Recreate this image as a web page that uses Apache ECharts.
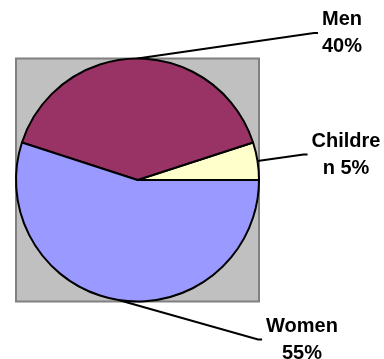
<!DOCTYPE html>
<html>
<head>
<meta charset="utf-8">
<script src="https://cdn.jsdelivr.net/npm/echarts@6/dist/echarts.min.js"></script>
<style>
  html, body { margin: 0; padding: 0; background: #ffffff; }
  #chart { width: 384px; height: 359px; }
</style>
</head>
<body>
<div id="chart"></div>
<script>
// Population shares
const categories = ['Children', 'Men', 'Women'];
const shares = [5, 40, 55];

// Slice fills, in category order
const sliceColors = ['#FFFFCC', '#993366', '#9999FF'];

// Layout constants
const PIE_CX = 137.5, PIE_CY = 180, PIE_R = 121.5;
const labelPositions = [[346, 154.5], [342, 33], [302, 339.5]];
const LABEL_FONT = 'bold 20px "Liberation Sans", Arial, sans-serif';
const WRAP_WIDTH = 76;

// Word-wrap a label to WRAP_WIDTH, splitting over-long words by character
const measureCtx = document.createElement('canvas').getContext('2d');
measureCtx.font = LABEL_FONT;
function textWidth(s) { return measureCtx.measureText(s).width; }
function wrapLabel(text) {
  const lines = [];
  let line = '';
  for (const word of text.split(' ')) {
    const candidate = line ? line + ' ' + word : word;
    if (textWidth(candidate) <= WRAP_WIDTH) { line = candidate; continue; }
    if (line) lines.push(line);
    let rest = word;
    while (textWidth(rest) > WRAP_WIDTH) {
      let k = rest.length;
      while (k > 1 && textWidth(rest.slice(0, k)) > WRAP_WIDTH) k--;
      lines.push(rest.slice(0, k));
      rest = rest.slice(k);
    }
    line = rest;
  }
  if (line) lines.push(line);
  return lines.join('\n');
}

const chart = echarts.init(document.getElementById('chart'), null, { renderer: 'canvas' });

chart.setOption({
  animation: false,
  backgroundColor: '#ffffff',
  graphic: [{
    type: 'rect',
    z: 0,
    shape: { x: PIE_CX - PIE_R, y: PIE_CY - PIE_R, width: 2 * PIE_R, height: 2 * PIE_R },
    style: { fill: '#C0C0C0', stroke: '#808080', lineWidth: 2 }
  }],
  series: [{
    type: 'pie',
    z: 2,
    center: [PIE_CX, PIE_CY],
    radius: PIE_R,
    startAngle: 0,
    clockwise: false,
    avoidLabelOverlap: false,
    silent: true,
    data: categories.map((name, i) => ({
      name: name,
      value: shares[i],
      itemStyle: { color: sliceColors[i] }
    })),
    itemStyle: { borderColor: '#000000', borderWidth: 2 },
    label: {
      show: true,
      position: 'outside',
      formatter: p => wrapLabel(p.name + ' ' + p.value + '%'),
      color: '#000000',
      fontFamily: '"Liberation Sans", Arial, sans-serif',
      fontWeight: 'bold',
      fontSize: 20,
      lineHeight: 27,
      align: 'center',
      padding: [0, 4]
    },
    labelLine: {
      show: true,
      length: 10,
      length2: 4,
      smooth: false,
      lineStyle: { color: '#000000', width: 2 }
    },
    labelLayout: p => ({
      x: labelPositions[p.dataIndex][0],
      y: labelPositions[p.dataIndex][1],
      align: 'center',
      verticalAlign: 'middle'
    })
  }]
});
</script>
</body>
</html>
